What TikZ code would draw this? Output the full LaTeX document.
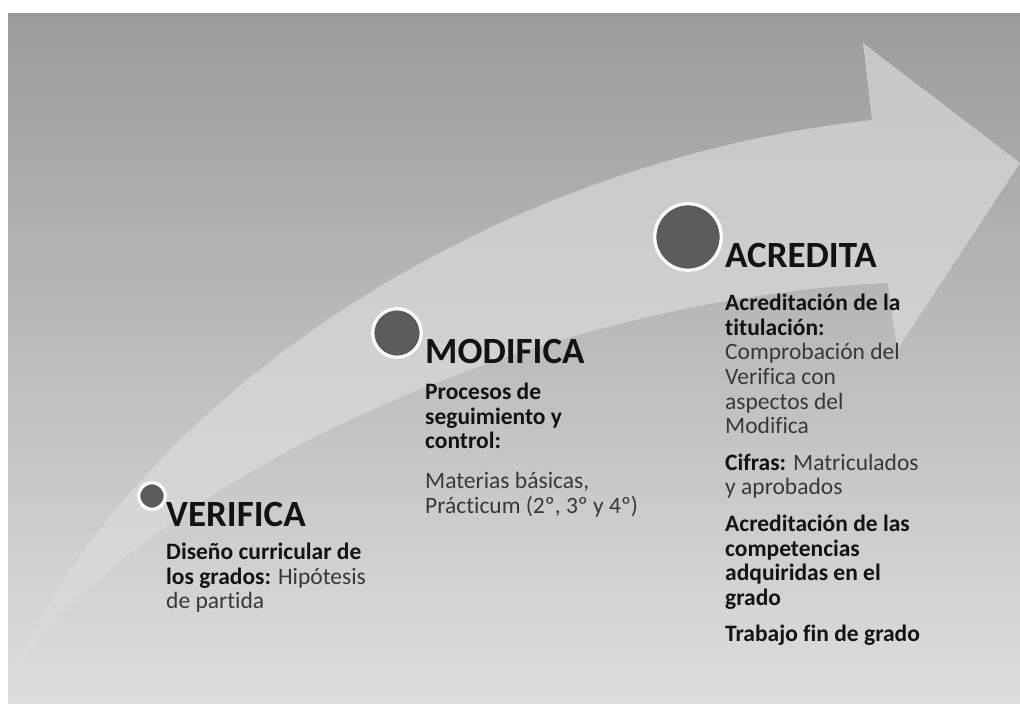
\documentclass[tikz,border=0pt]{standalone}
\usepackage{fontspec}
\setmainfont{Carlito}[Ligatures=NoCommon]
\usetikzlibrary{positioning}
\definecolor{bgtop}{gray}{0.61}
\definecolor{bgbot}{gray}{0.87}
\definecolor{arrowtop}{gray}{0.78}
\definecolor{arrowbot}{gray}{0.86}
\definecolor{dotfill}{gray}{0.36}
\definecolor{inkbold}{gray}{0.07}
\definecolor{inkplain}{gray}{0.22}
\newcommand{\keyterm}[1]{{\color{inkbold}\bfseries #1}}

\begin{document}
\begin{tikzpicture}[x=1pt,y=1pt,
  stagedot/.style={circle,fill=dotfill,draw=white,line width=3.2pt,inner sep=0pt},
  stagetitle/.style={anchor=base west,inner sep=0pt,text=inkbold,font=\bfseries\fontsize{37}{37}\selectfont},
  stagetext/.style={inner sep=0pt,align=left,text=inkplain,font=\fontsize{23.5}{24.6}\selectfont}]
  \useasboundingbox (0,0) rectangle (1020,704);
  \shade[top color=bgtop,bottom color=bgbot] (8,0) rectangle (1020,690);
  % curved arrow
  \begin{scope}
    \clip (8,0) rectangle (1020,690);
    \shade[top color=arrowtop,bottom color=arrowbot]
      (10,26) .. controls (125,289) and (465,539) .. (872,584)
      -- (863,661) -- (1020,541) -- (897,354) -- (888,421)
      .. controls (520,404) and (135,214) .. (10,26) -- cycle;
  \end{scope}
  % stage dots
  \node[stagedot,minimum size=26.5pt] (vdot) at (152,208) {};
  \node[stagedot,minimum size=48.5pt] (mdot) at (397,371) {};
  \node[stagedot,minimum size=66.5pt] (adot) at (688,467) {};
  % titles
  \node[stagetitle] (vtitle) at (166,177) {VERIFICA};
  \node[stagetitle] (mtitle) at (425,340) {MODIFICA};
  \node[stagetitle] (atitle) at (725,436) {ACREDITA};
  % texts
  \node[stagetext,below right=16pt and 0pt of vtitle.base west] (vtext)
    {\keyterm{Diseño curricular de}\\
     \keyterm{los grados:} Hipótesis\\
     de partida};
  \node[stagetext,below right=19pt and 0pt of mtitle.base west] (mtext)
    {\keyterm{Procesos de}\\
     \keyterm{seguimiento y}\\
     \keyterm{control:}\\[15pt]
     Materias básicas,\\
     Prácticum (2º, 3º y 4º)};
  \node[stagetext,below right=26pt and 0pt of atitle.base west] (atext)
    {\keyterm{Acreditación de la}\\
     \keyterm{titulación:}\\
     Comprobación del\\
     Verifica con\\
     aspectos del\\
     Modifica\\[12pt]
     \keyterm{Cifras:} Matriculados\\
     y aprobados\\[12pt]
     \keyterm{Acreditación de las}\\
     \keyterm{competencias}\\
     \keyterm{adquiridas en el}\\
     \keyterm{grado}\\[12pt]
     \keyterm{Trabajo fin de grado}};
\end{tikzpicture}
\end{document}
